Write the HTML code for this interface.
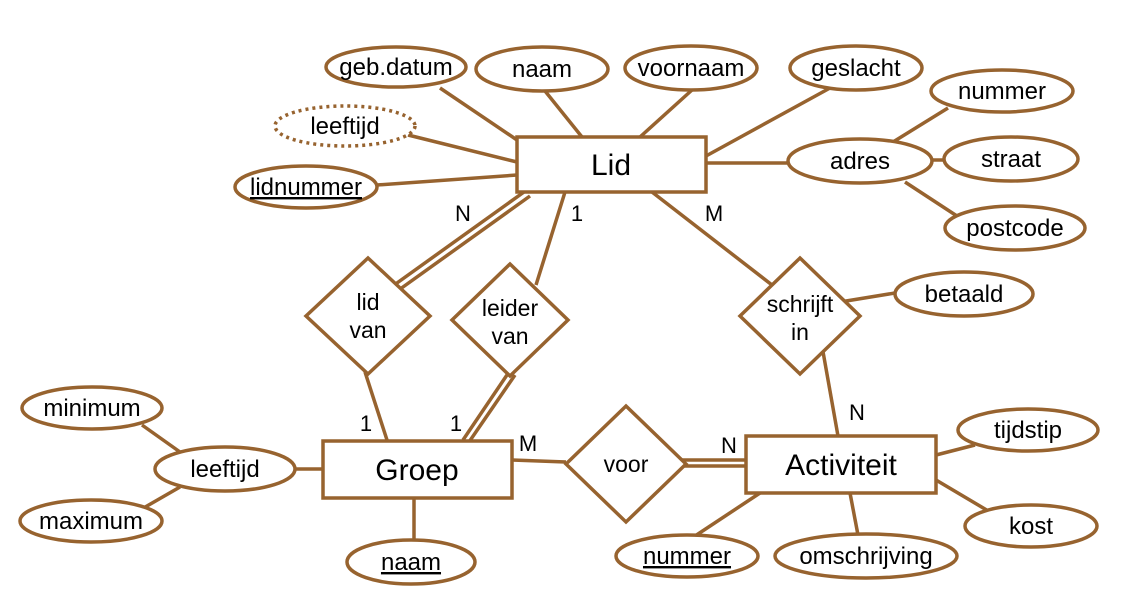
<!DOCTYPE html>
<html><head><meta charset="utf-8"><style>
html,body{margin:0;padding:0;background:#fff;width:1130px;height:600px;overflow:hidden}
svg text{font-family:"Liberation Sans",Arial,sans-serif;fill:#000}
</style></head><body>
<svg width="1130" height="600" viewBox="0 0 1130 600" xmlns="http://www.w3.org/2000/svg">
<g stroke="#97632f" stroke-width="3.5" fill="none">
<line x1="440" y1="88" x2="517" y2="140"/>
<line x1="545" y1="91" x2="582" y2="137"/>
<line x1="692" y1="90" x2="640" y2="137"/>
<line x1="830" y1="88" x2="706" y2="156"/>
<line x1="408" y1="135" x2="517" y2="162"/>
<line x1="377" y1="185" x2="517" y2="175"/>
<line x1="706" y1="163" x2="788" y2="163"/>
<line x1="893" y1="142" x2="948" y2="108"/>
<line x1="930" y1="160" x2="945" y2="160"/>
<line x1="905" y1="182" x2="960" y2="218"/>
<line x1="524" y1="192" x2="390" y2="288"/>
<line x1="530" y1="196" x2="396" y2="292"/>
<line x1="565" y1="192" x2="536" y2="285"/>
<line x1="652" y1="192" x2="772" y2="285"/>
<line x1="840" y1="302" x2="895" y2="293"/>
<line x1="822" y1="346" x2="838" y2="436"/>
<line x1="365" y1="372" x2="387" y2="440"/>
<line x1="509" y1="372" x2="463" y2="440"/>
<line x1="515" y1="375" x2="469" y2="442"/>
<line x1="512" y1="460" x2="566" y2="462"/>
<line x1="676" y1="460" x2="746" y2="460"/>
<line x1="676" y1="466" x2="746" y2="466"/>
<line x1="936" y1="455" x2="975" y2="445"/>
<line x1="936" y1="480" x2="990" y2="512"/>
<line x1="760" y1="493" x2="695" y2="536"/>
<line x1="850" y1="493" x2="858" y2="535"/>
<line x1="322" y1="469" x2="295" y2="469"/>
<line x1="180" y1="452" x2="142" y2="425"/>
<line x1="180" y1="487" x2="140" y2="510"/>
<line x1="414" y1="497" x2="414" y2="540"/>
</g>
<g stroke="#97632f" stroke-width="3.5" fill="#fff">
<ellipse cx="396" cy="67" rx="70" ry="20"/>
<ellipse cx="542" cy="69" rx="66" ry="22"/>
<ellipse cx="691" cy="68" rx="66" ry="22"/>
<ellipse cx="856" cy="68" rx="66" ry="22"/>
<ellipse cx="345" cy="126" rx="70" ry="20" stroke-dasharray="3 4"/>
<ellipse cx="306" cy="187" rx="71" ry="21"/>
<ellipse cx="1002" cy="91" rx="71" ry="21"/>
<ellipse cx="860" cy="161" rx="72" ry="22"/>
<ellipse cx="1011" cy="159" rx="67" ry="22"/>
<ellipse cx="1015" cy="228" rx="70" ry="22"/>
<ellipse cx="964" cy="294" rx="69" ry="22"/>
<ellipse cx="92" cy="408" rx="70" ry="21"/>
<ellipse cx="225" cy="469" rx="70" ry="22"/>
<ellipse cx="91" cy="521" rx="71" ry="21"/>
<ellipse cx="411" cy="562" rx="64" ry="22"/>
<ellipse cx="1028" cy="430" rx="70" ry="21"/>
<ellipse cx="1031" cy="526" rx="66" ry="21"/>
<ellipse cx="687" cy="556" rx="71" ry="21"/>
<ellipse cx="866" cy="556" rx="91" ry="22"/>
<rect x="517" y="137" width="189" height="55"/>
<rect x="323" y="441" width="189" height="57"/>
<rect x="746" y="436" width="190" height="57"/>
<polygon points="368,258 430,316 368,374 306,316"/>
<polygon points="510,264 568,320 510,376 452,320"/>
<polygon points="800,258 860,316 800,374 740,316"/>
<polygon points="626,406 686,464 626,522 566,464"/>
</g>
<g font-size="24" text-anchor="middle">
<text x="396" y="75">geb.datum</text>
<text x="542" y="77">naam</text>
<text x="691" y="76">voornaam</text>
<text x="856" y="76">geslacht</text>
<text x="345" y="134">leeftijd</text>
<text x="306" y="195" text-decoration="underline">lidnummer</text>
<text x="1002" y="99">nummer</text>
<text x="860" y="169">adres</text>
<text x="1011" y="167">straat</text>
<text x="1015" y="236">postcode</text>
<text x="964" y="302">betaald</text>
<text x="92" y="416">minimum</text>
<text x="225" y="477">leeftijd</text>
<text x="91" y="529">maximum</text>
<text x="411" y="570" text-decoration="underline">naam</text>
<text x="1028" y="438">tijdstip</text>
<text x="1031" y="534">kost</text>
<text x="687" y="564" text-decoration="underline">nummer</text>
<text x="866" y="564">omschrijving</text>
</g>
<g font-size="23" text-anchor="middle">
<text x="368" y="310">lid</text>
<text x="368" y="338">van</text>
<text x="510" y="316">leider</text>
<text x="510" y="344">van</text>
<text x="800" y="312">schrijft</text>
<text x="800" y="340">in</text>
<text x="626" y="472">voor</text>
</g>
<g font-size="22" text-anchor="middle">
<text x="463" y="221">N</text>
<text x="577" y="221">1</text>
<text x="714" y="221">M</text>
<text x="366" y="431">1</text>
<text x="456" y="431">1</text>
<text x="528" y="451">M</text>
<text x="729" y="453">N</text>
<text x="857" y="420">N</text>
</g>
<g font-size="30" text-anchor="middle">
<text x="611" y="175">Lid</text>
<text x="417" y="480">Groep</text>
<text x="841" y="475">Activiteit</text>
</g>
</svg>
</body></html>
